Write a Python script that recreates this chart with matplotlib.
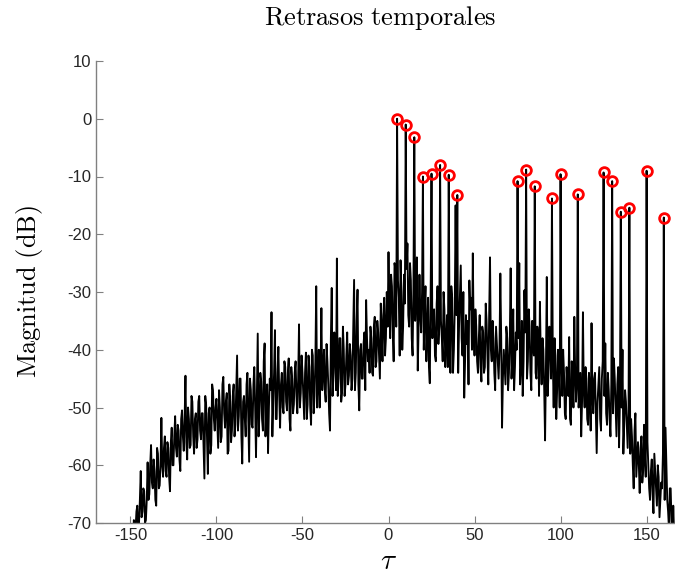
import numpy as np
import matplotlib
matplotlib.use("Agg")
import matplotlib.pyplot as plt

plt.rcParams['mathtext.fontset'] = 'cm'
plt.rcParams['font.family'] = ['Liberation Sans', 'DejaVu Sans']
plt.rcParams['axes.unicode_minus'] = False

# retardo (muestras) desde -170 hasta 166, magnitud en dB
tau_inicio = -170
magnitud = [
    -82, -79, -85, -77, -81, -78, -84, -76, -80, -79,        # -170
    -83, -77, -80, -75, -82, -78, -76, -80, -74, -77,        # -160
    -74, -72, -69.5, -71, -67, -70, -61, -68, -64.5, -69.5,  # -150
    -59.5, -65, -56.5, -64, -61, -67, -58, -63.5, -51.8, -62,  # -140
    -55, -62, -57, -64.5, -53.5, -60, -51.5, -58.5, -54, -61,  # -130
    -50.5, -57.5, -44.5, -59, -52, -56.5, -49, -58, -51, -55.5,  # -120
    -48, -55.5, -51, -62.3, -49.5, -61.5, -50, -56.5, -47, -54,  # -110
    -48.5, -57, -50, -55, -44.7, -53.5, -47.5, -57.5, -49, -54,  # -100
    -46, -53, -41, -51.5, -45, -59.7, -48, -55, -44, -59.4,      # -90
    -47, -53.5, -43, -58.6, -37.2, -51, -45.5, -54, -38.9, -50,  # -80
    -57.9, -45, -33.5, -49, -36.6, -52, -39.5, -53.5, -44, -51,  # -70
    -43, -50.5, -41.5, -54, -45, -49.5, -42, -51, -35.6, -47.5,  # -60
    -44, -52, -40.5, -49.5, -43, -53, -41, -48, -29, -46,        # -50
    -50, -32.8, -44, -47, -39, -46, -54, -29.3, -44, -41,        # -40
    -24.2, -45, -38, -47.5, -40, -46, -37, -44.5, -41, -45,      # -30
    -27.9, -44, -29.6, -50.5, -39, -45, -37, -31.4, -42, -44,    # -20
    -38, -44.5, -34.3, -42, -37, -45, -36, -34, -41, -30,        # -10
    -23.1, -38, -29, -42, -26, 0, -31, -24.5, -40, -27,          # 0
    -1, -21.6, -36, -28, -41, -3.2, -30, -43.6, -27, -37,        # 10
    -10, -33, -42, -31, -45.8, -9.5, -35, -41, -32, -39,         # 20
    -8, -38, -30, -43, -34, -9.7, -44, -31, -40, -15,            # 30
    -13.2, -36, -25.4, -41, -48.3, -34, -35, -28, -31, -23.3,    # 40
    -41, -36, -44, -34, -45.5, -37, -43, -35, -46, -24,          # 50
    -42, -38, -47, -39, -45, -26.8, -53.5, -40, -46, -38,        # 60
    -44, -25.9, -41, -47, -37, -10.8, -25, -43, -48, -29.7,      # 70
    -8.8, -42, -36, -47, -39, -11.7, -45, -38, -31.7, -46,       # 80
    -40, -55.7, -27.4, -44, -39, -13.8, -50, -41, -47, -43,      # 90
    -9.6, -48, -44, -52, -46, -37.8, -53, -45, -34.3, -49,       # 100
    -13.1, -47, -55, -33.5, -50, -45, -53, -47, -35.4, -51,      # 110
    -44, -57.9, -46, -52, -45, -9.3, -38.9, -53, -47, -55,       # 120
    -10.8, -41.5, -50, -46, -56.9, -16.1, -40, -53, -49, -57,    # 130
    -15.4, -52, -60, -54, -62, -56, -64.8, -55, -61, -58,        # 140
    -9, -60, -66, -59, -68.3, -61, -67, -62, -66, -64,           # 150
    -17.1, -53.5, -66, -71, -64, -75, -72,                       # 160
]

# muestras intermedias (tau + 0.5), desde -169.5 hasta 165.5
magnitud_medio = [
    -78, -83, -80, -81, -77, -82, -79, -83, -78, -81,   # -170
    -79, -82, -78, -80, -76, -81, -79, -77, -79, -75,   # -160
    -77, -73, -72, -68, -72, -66, -69, -64, -70, -66,   # -150
    -66, -60, -63, -59, -66, -57, -64, -60, -60, -57,   # -140
    -61, -56, -62, -56, -60, -55, -57, -53, -59, -52,   # -130
    -55, -52, -56, -50, -57, -48, -55, -52, -57, -49,   # -120
    -54, -51, -57, -48, -55, -51, -58, -46, -52, -50,   # -110
    -53, -47, -56, -46, -51, -49, -58, -46, -56, -48,   # -100
    -55, -47, -54, -45, -55, -49, -52, -46, -52, -45,   # -90
    -53, -46, -50, -48, -55, -44, -52, -42, -55, -46,   # -80
    -50, -47, -55, -44, -52, -44, -48, -46, -50, -42,   # -70
    -49, -44, -52, -43, -51, -44, -48, -45, -50, -41,   # -60
    -48, -44, -52, -41, -50, -40, -51, -42, -50, -40,   # -50
    -44, -47, -40, -49, -42, -51, -38, -48, -37, -47,   # -40
    -48, -38, -49, -36, -48, -41, -46, -39, -47, -36,   # -30
    -47, -35, -46, -40, -45, -39, -47, -38, -40, -36,   # -20
    -44, -36, -43, -35, -41, -32, -42, -31, -38, -36,   # -10
    -33, -27, -37, -25, -36, -28, -41, -30, -36, -32,   # 0
    -26, -34, -25, -38, -29, -35, -24, -36, -34, -30,   # 10
    -40, -29, -37, -43, -30, -38, -33, -42, -29, -36,   # 20
    -35, -42, -33, -39, -43, -36, -29, -44, -33, -34,   # 30
    -44, -31, -38, -30, -42, -39, -46, -33, -40, -37,   # 40
    -33, -42, -38, -43, -36, -44, -32, -41, -34, -40,   # 50
    -35, -44, -36, -42, -40, -38, -45, -43, -36, -47,   # 60
    -38, -45, -33, -43, -40, -38, -46, -35, -42, -37,   # 70
    -45, -33, -44, -35, -41, -44, -36, -48, -41, -38,   # 80
    -47, -43, -48, -36, -45, -42, -38, -52, -40, -50,   # 90
    -42, -40, -51, -43, -48, -52, -42, -50, -44, -46,   # 100
    -50, -44, -49, -47, -43, -52, -44, -54, -48, -45,   # 110
    -51, -49, -43, -54, -42, -48, -51, -44, -52, -46,   # 120
    -51, -45, -55, -43, -49, -50, -58, -47, -53, -51,   # 130
    -58, -55, -64, -51, -59, -60, -57, -63, -53, -62,   # 140
    -56, -64, -61, -65, -58, -64, -60, -69, -63, -58,   # 150
    -66, -60, -68, -64, -70, -67,                       # 160
]

tau_a = tau_inicio + np.arange(len(magnitud))
tau_b = tau_inicio + 0.5 + np.arange(len(magnitud_medio))
tau = np.concatenate([tau_a, tau_b])
mag = np.concatenate([magnitud, magnitud_medio])
orden = np.argsort(tau)
tau = tau[orden]
mag = mag[orden]

# picos detectados
tau_picos = [5, 10, 15, 20, 25, 30, 35, 40, 75, 80, 85, 95, 100, 110,
             125, 130, 135, 140, 150, 160]
mag_picos = [0, -1, -3.2, -10, -9.5, -8, -9.7, -13.2, -10.8, -8.8, -11.7,
             -13.8, -9.6, -13.1, -9.3, -10.8, -16.1, -15.4, -9, -17.1]

fig = plt.figure(figsize=(6.75, 5.75), dpi=100)
ax = fig.add_axes([96 / 675, 52 / 575, 585 / 675, 462 / 575])

ax.plot(tau, mag, color='black', lw=1.35)
ax.plot(tau_picos, mag_picos, 'o', color='red', markerfacecolor='none',
        markersize=7, markeredgewidth=2)

ax.set_xlim(-170, 170)
ax.set_ylim(-70, 10)
ax.set_xticks([-150, -100, -50, 0, 50, 100, 150])
ax.set_yticks(range(-70, 11, 10))

for s in ['top', 'right']:
    ax.spines[s].set_visible(False)
for s in ['left', 'bottom']:
    ax.spines[s].set_color('0.5')
    ax.spines[s].set_linewidth(1.0)
ax.tick_params(direction='in', length=5, width=0.8, color='0.5',
               labelsize=12, labelcolor='0.15')

ax.set_title(r'$\mathrm{Retrasos\ temporales}$', fontsize=19, pad=26,
             x=0.4855)
ax.set_ylabel(r'$\mathrm{Magnitud\ (dB)}$', fontsize=19, labelpad=16)
ax.set_xlabel(r'$\tau$', fontsize=21, labelpad=3)

fig.savefig('out.png', dpi=100)
